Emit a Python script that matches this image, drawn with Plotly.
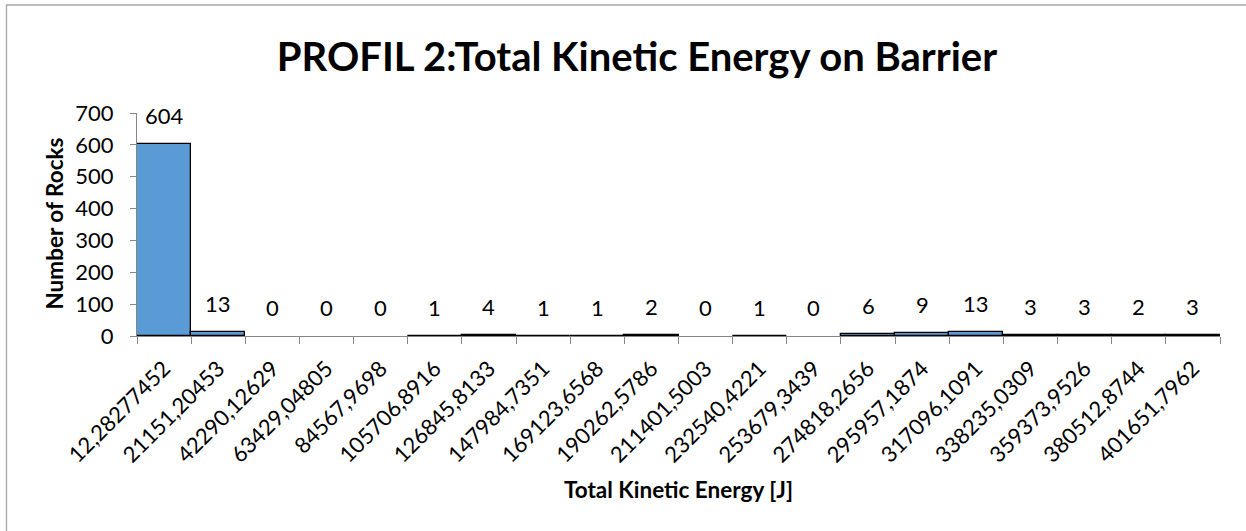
import plotly.graph_objects as go

# Histogram of total kinetic energy on the barrier (bin lower bounds in J)
bin_labels = [
    "12,28277452", "21151,20453", "42290,12629", "63429,04805", "84567,9698",
    "105706,8916", "126845,8133", "147984,7351", "169123,6568", "190262,5786",
    "211401,5003", "232540,4221", "253679,3439", "274818,2656", "295957,1874",
    "317096,1091", "338235,0309", "359373,9526", "380512,8744", "401651,7962",
]
rock_counts = [604, 13, 0, 0, 0, 1, 4, 1, 1, 2, 0, 1, 0, 6, 9, 13, 3, 3, 2, 3]

y_ticks = [0, 100, 200, 300, 400, 500, 600, 700]

W, H = 1246, 531
L, R, T, B = 137, 26, 113, 195
plot_w = W - L - R
plot_h = H - T - B


def px_to_paper_x(px):
    return (px - L) / plot_w


def px_to_paper_y(py):
    return (H - B - py) / plot_h


FAMILY = "Lato, 'Open Sans', sans-serif"
NUM_FONT = dict(family=FAMILY, size=22, color="black")
BOLD_FONT = dict(family=FAMILY, size=22.5, color="black", weight="bold")

fig = go.Figure()
fig.add_trace(go.Bar(
    x=bin_labels,
    y=rock_counts,
    marker=dict(
        color="#5B9BD5",
        line=dict(color="black", width=[1.3 if v > 0 else 0 for v in rock_counts]),
    ),
    hoverinfo="x+y",
    showlegend=False,
))

# value labels above each bar
for lab, v in zip(bin_labels, rock_counts):
    fig.add_annotation(
        x=lab, y=v, xref="x", yref="y",
        text=str(v), showarrow=False,
        yanchor="bottom", yshift=13,
        font=NUM_FONT,
    )

# axis titles
fig.add_annotation(
    text="<b>Number of Rocks</b>", textangle=-90, showarrow=False,
    xref="paper", yref="paper",
    x=px_to_paper_x(53.5), y=px_to_paper_y(224),
    xanchor="center", yanchor="middle", font=BOLD_FONT,
)
fig.add_annotation(
    text="<b>Total Kinetic Energy [J]</b>", showarrow=False,
    xref="paper", yref="paper",
    x=px_to_paper_x(678.5), y=px_to_paper_y(489),
    xanchor="center", yanchor="middle", font=BOLD_FONT,
)

# chart frame: left and top edges, running to the canvas border
fx0, fy0 = px_to_paper_x(6.5), px_to_paper_y(5)
fx1, fy1 = px_to_paper_x(W), px_to_paper_y(H)
fig.add_shape(
    type="path", xref="paper", yref="paper",
    path=f"M {fx0} {fy1} L {fx0} {fy0} L {fx1} {fy0}",
    line=dict(color="#A6A6A6", width=1.3),
    layer="below",
)

fig.update_layout(
    width=W, height=H,
    margin=dict(l=L, r=R, t=T, b=B, pad=0),
    paper_bgcolor="white", plot_bgcolor="white",
    bargap=0,
    title=dict(
        text="<b>PROFIL 2:Total Kinetic Energy on Barrier</b>",
        font=dict(family=FAMILY, size=40, color="black"),
        xref="container", yref="container",
        x=637 / W, y=1 - 57 / H, xanchor="center", yanchor="middle",
    ),
)

fig.update_xaxes(
    type="category",
    tickangle=-45,
    tickfont=NUM_FONT,
    showline=True, linecolor="#868686", linewidth=1.3,
    ticks="outside", tickson="boundaries", ticklen=7, tickcolor="#868686", tickwidth=1,
    ticklabelstandoff=10,
    showgrid=False, zeroline=False,
)
fig.update_yaxes(
    range=[0, 700],
    tickvals=y_ticks,
    tickfont=NUM_FONT,
    showline=True, linecolor="#868686", linewidth=1,
    ticks="outside", ticklen=6, tickcolor="#868686",
    ticklabelstandoff=12,
    showgrid=False, zeroline=False,
)

fig.write_html("out.html")
